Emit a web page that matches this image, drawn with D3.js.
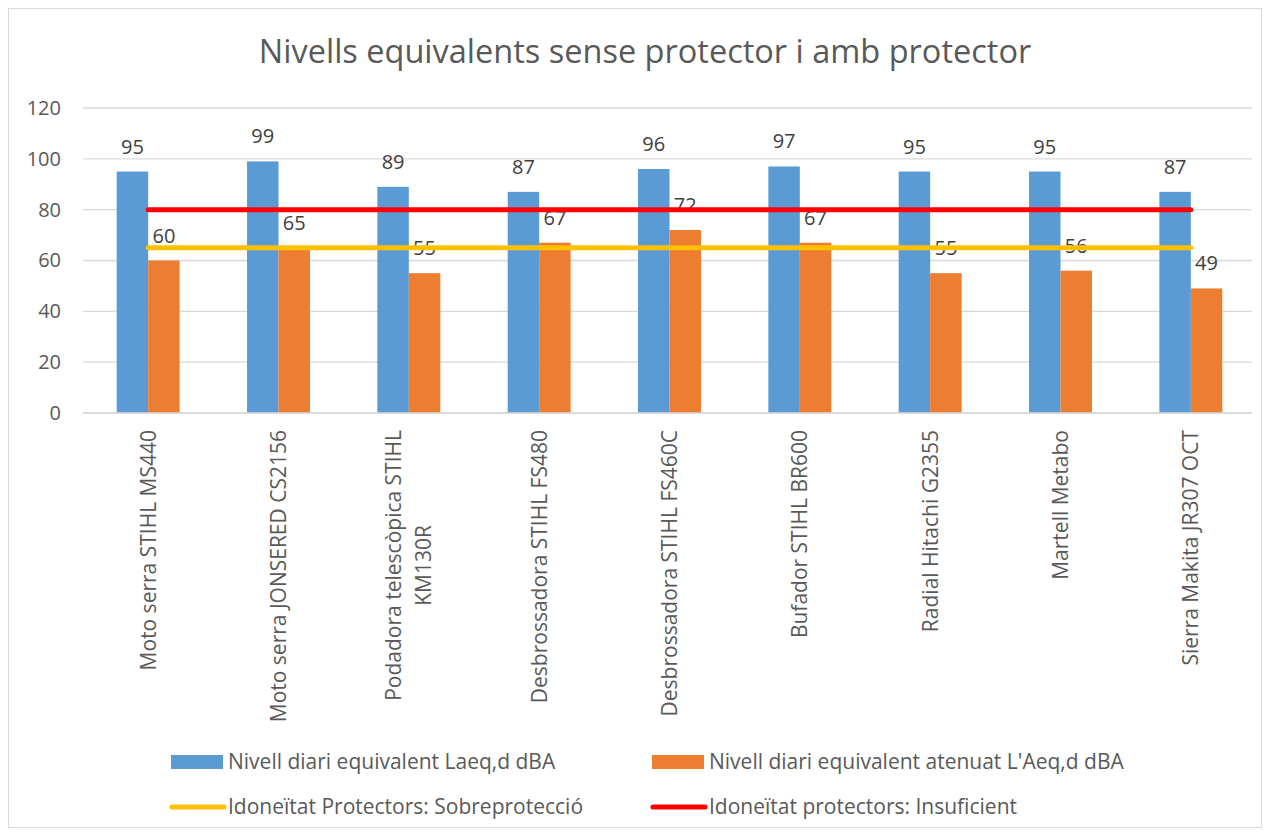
<!DOCTYPE html>
<html>
<head>
<meta charset="utf-8">
<script src="https://cdn.jsdelivr.net/npm/d3@7"></script>
<style>
  body { margin: 0; background: #fff; }
  text { font-family: "Open Sans", sans-serif; fill: #595959; }
  text.val { fill: #404040; }
</style>
</head>
<body>
<div id="chart"></div>
<script>
const categories = [
    ["Moto serra STIHL MS440"],
    ["Moto serra JONSERED CS2156"],
    ["Podadora telescòpica STIHL", "KM130R"],
    ["Desbrossadora STIHL FS480"],
    ["Desbrossadora STIHL FS460C"],
    ["Bufador STIHL BR600"],
    ["Radial Hitachi G2355"],
    ["Martell Metabo"],
    ["Sierra Makita JR307 OCT"]
];
const laeq = [95, 99, 89, 87, 96, 97, 95, 95, 87];
const laeqAtenuat = [60, 65, 55, 67, 72, 67, 55, 56, 49];
const sobreproteccio = [65, 65, 65, 65, 65, 65, 65, 65, 65];
const insuficient = [80, 80, 80, 80, 80, 80, 80, 80, 80];
const yTicks = [0, 20, 40, 60, 80, 100, 120];

const barSeries = [
    { name: "Nivell diari equivalent Laeq,d dBA", values: laeq, color: "#5b9bd5" },
    { name: "Nivell diari equivalent atenuat L'Aeq,d dBA", values: laeqAtenuat, color: "#ed7d31" }
];
const lineSeries = [
    { name: "Idoneïtat Protectors: Sobreprotecció", values: sobreproteccio, color: "#ffc000" },
    { name: "Idoneïtat protectors: Insuficient", values: insuficient, color: "#ff0000" }
];

const width = 1270, height = 836;
const plot = { left: 83, right: 1256, top: 108, bottom: 413 };

const svg = d3.select("#chart").append("svg")
    .attr("width", width)
    .attr("height", height);

svg.append("rect")
    .attr("x", 8.5).attr("y", 8.5)
    .attr("width", 1253).attr("height", 819)
    .attr("fill", "#fff")
    .attr("stroke", "#d9d9d9");

svg.append("text")
    .attr("x", 645).attr("y", 63)
    .attr("text-anchor", "middle")
    .style("font-size", "32.5px")
    .text("Nivells equivalents sense protector i amb protector");

const idx = d3.range(categories.length);

const x0 = d3.scaleBand()
    .domain(idx)
    .range([plot.left, plot.right])
    .paddingInner(0.517)
    .paddingOuter(0.2585);

const x1 = d3.scaleBand()
    .domain(d3.range(barSeries.length))
    .range([0, x0.bandwidth()]);

const y = d3.scaleLinear()
    .domain([0, 120])
    .range([plot.bottom, plot.top]);

// gridlines
svg.append("g")
    .selectAll("line")
    .data(yTicks)
    .enter().append("line")
    .attr("x1", plot.left)
    .attr("x2", 1252)
    .attr("y1", d => y(d))
    .attr("y2", d => y(d))
    .attr("stroke", "#d9d9d9")
    .attr("stroke-width", 1.3);

// y axis labels
const yAxis = svg.append("g")
    .attr("transform", `translate(${plot.left - 22},0)`)
    .call(d3.axisLeft(y).tickValues(yTicks).tickSize(0).tickPadding(0));
yAxis.select(".domain").remove();
yAxis.selectAll("text")
    .style("font-size", "20px")
    .style("font-family", "'Open Sans', sans-serif")
    .attr("fill", "#595959");

// bars
const groups = svg.append("g")
    .selectAll("g")
    .data(idx)
    .enter().append("g")
    .attr("transform", i => `translate(${x0(i)},0)`);

groups.selectAll("rect")
    .data(i => barSeries.map((s, k) => ({ k, v: s.values[i], color: s.color })))
    .enter().append("rect")
    .attr("x", d => x1(d.k))
    .attr("width", x1.bandwidth())
    .attr("y", d => y(d.v))
    .attr("height", d => y(0) - y(d.v))
    .attr("fill", d => d.color);

// baseline
svg.append("line")
    .attr("x1", plot.left).attr("x2", 1252)
    .attr("y1", y(0)).attr("y2", y(0))
    .attr("stroke", "#d9d9d9")
    .attr("stroke-width", 1.5);

// lines
const cx = i => x0(i) + x0.bandwidth() / 2;
const line = d3.line()
    .x((d, i) => cx(i))
    .y(d => y(d));

svg.append("g")
    .selectAll("path")
    .data(lineSeries)
    .enter().append("path")
    .attr("d", d => line(d.values))
    .attr("fill", "none")
    .attr("stroke", d => d.color)
    .attr("stroke-width", 5)
    .attr("stroke-linecap", "round");

// value labels
groups.selectAll("text.val")
    .data(i => barSeries.map((s, k) => ({ k, v: s.values[i] })))
    .enter().append("text")
    .attr("class", "val")
    .attr("x", d => x1(d.k) + x1.bandwidth() / 2)
    .attr("y", d => y(d.v) - 18)
    .attr("text-anchor", "middle")
    .style("font-size", "20px")
    .text(d => d.v);

// category labels (rotated)
const catTop = 430;
const cats = svg.append("g")
    .selectAll("g")
    .data(idx)
    .enter().append("g");

cats.each(function (i) {
    const lines = categories[i];
    const g = d3.select(this);
    const texts = lines.map((t, j) => g.append("text")
        .style("font-size", "21px")
        .attr("text-anchor", "middle")
        .text(t));
    const maxLen = d3.max(texts, t => t.node().getComputedTextLength());
    const lineH = 30;
    const n = lines.length;
    texts.forEach((t, j) => {
        const xx = cx(i) + (j - (n - 1) / 2) * lineH + 7.5;
        const yy = catTop + maxLen / 2;
        t.attr("transform", `translate(${xx},${yy}) rotate(-90)`);
    });
});

// legend
const legendItems = [
    { s: barSeries[0], type: "rect", x: 171, y: 762 },
    { s: barSeries[1], type: "rect", x: 652, y: 762 },
    { s: lineSeries[0], type: "line", x: 171, y: 807 },
    { s: lineSeries[1], type: "line", x: 652, y: 807 }
];

const legend = svg.append("g")
    .selectAll("g")
    .data(legendItems)
    .enter().append("g")
    .attr("transform", d => `translate(${d.x},${d.y})`);

legend.filter(d => d.type === "rect").append("rect")
    .attr("x", 0).attr("y", -7)
    .attr("width", 52).attr("height", 14)
    .attr("fill", d => d.s.color);

legend.filter(d => d.type === "line").append("line")
    .attr("x1", 1).attr("x2", 53)
    .attr("y1", 0).attr("y2", 0)
    .attr("stroke", d => d.s.color)
    .attr("stroke-width", 5)
    .attr("stroke-linecap", "round");

legend.append("text")
    .attr("x", 57)
    .attr("y", 0)
    .attr("dy", "0.35em")
    .style("font-size", "21px")
    .text(d => d.s.name);
</script>
</body>
</html>
